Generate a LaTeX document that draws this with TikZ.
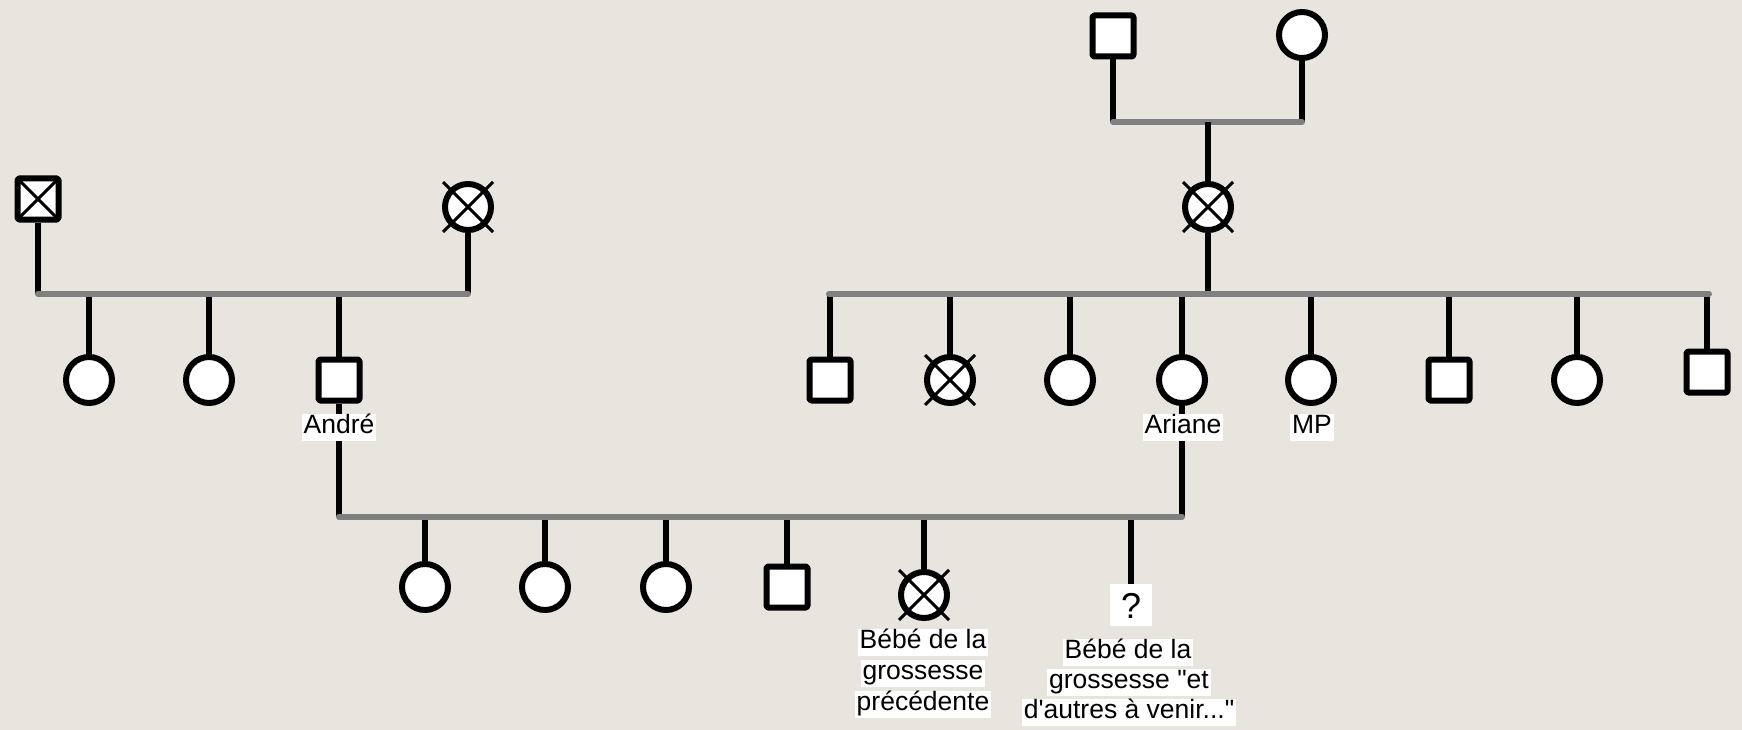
\documentclass[tikz,border=0pt]{standalone}
\usepackage{fontspec}
\setmainfont{Liberation Sans}
\newfontfamily\lblfont{Liberation Sans}
\definecolor{bgc}{RGB}{232,228,222}
\definecolor{linegray}{RGB}{128,128,128}
\pgfdeclarelayer{edges}
\pgfsetlayers{edges,main}
\tikzset{
  sym/.style={draw=black, line width=6pt, fill=white, inner sep=0pt, line join=round},
  male/.style={sym, rectangle, minimum size=41pt, rounded corners=1.5pt},
  female/.style={sym, circle, minimum size=46pt},
  desc/.style={draw=black, line width=5.5pt},
  union/.style={draw=linegray, line width=6pt, line cap=round},
  xmark/.style={draw=black, line width=3pt},
  lbl/.style={fill=white, inner xsep=2pt, inner ysep=1pt, font=\lblfont\fontsize{26.5}{30}\selectfont, text height=19pt, text depth=6pt},
  qbox/.style={fill=white, inner sep=0pt, minimum width=42pt, minimum height=42pt, font=\lblfont\fontsize{36}{40}\selectfont, text height=26pt, text depth=0pt},
}
\begin{document}
\begin{tikzpicture}[x=1pt,y=-1pt]
\useasboundingbox (0,0) rectangle (1742,730);
\begin{pgfonlayer}{edges}
\fill[bgc] (0,0) rectangle (1742,730);
\end{pgfonlayer}

% ---- left grandparents
\node[male] (gfL) at (38,199) {};
\node[female] (gmL) at (468,207) {};
\coordinate (mL1) at (38,294);
\coordinate (mL2) at (468,294);
\node[female] (cL1) at (89,380) {};
\node[female] (cL2) at (209,380) {};
\node[male] (andre) at (339,380) {};

% ---- right grandparents
\node[male] (gfR) at (1113,36) {};
\node[female] (gmR) at (1302,35) {};
\coordinate (mR1) at (1113,122);
\coordinate (mR2) at (1302,122);
\coordinate (dR) at (1208,122);
\node[female] (mom) at (1208,207) {};
\coordinate (sR) at (1208,294);
\coordinate (sR1) at (829,294);
\coordinate (sR2) at (1709,294);
\node[male] (r1) at (830,380) {};
\node[female] (r2) at (950,380) {};
\node[female] (r3) at (1070,380) {};
\node[female] (ariane) at (1182,380) {};
\node[female] (mp) at (1311,380) {};
\node[male] (r6) at (1449,380) {};
\node[female] (r7) at (1577,380) {};
\node[male] (r8) at (1707,372) {};

% ---- bottom family
\coordinate (bL) at (339,517);
\coordinate (bR) at (1182,517);
\node[female] (k1) at (425,587) {};
\node[female] (k2) at (545,587) {};
\node[female] (k3) at (666,587) {};
\node[male] (k4) at (787,587) {};
\node[female] (k5) at (924,595) {};
\node[qbox] (q) at (1131,605) {?};

% ---- labels
\node[lbl] (lAndre) at (339,427) {André};
\node[lbl] (lAriane) at (1183,427) {Ariane};
\node[lbl] (lMP) at (1312,427) {MP};
\node[lbl] (a1) at (923,642) {Bébé de la};
\node[lbl] (a2) at (923,673) {grossesse};
\node[lbl] (a3) at (923,704) {précédente};
\node[lbl] (b1) at (1128,652) {Bébé de la};
\node[lbl] (b2) at (1129,682) {grossesse "et};
\node[lbl] (b3) at (1129,712) {d'autres à venir..."};

% ---- cross marks
\draw[xmark] ([shift={(-20.5,-20.5)}]gfL.center) -- ([shift={(20.5,20.5)}]gfL.center);
\draw[xmark] ([shift={(-20.5,20.5)}]gfL.center) -- ([shift={(20.5,-20.5)}]gfL.center);
\foreach \n in {gmL,mom,r2,k5}{
  \draw[xmark] ([shift={(-25,-25)}]\n.center) -- ([shift={(25,25)}]\n.center);
  \draw[xmark] ([shift={(-25,25)}]\n.center) -- ([shift={(25,-25)}]\n.center);
}

% ---- connectors
\begin{pgfonlayer}{edges}
\draw[desc] (gfL.south) -- (mL1);
\draw[desc] (gmL.south) -- (mL2);
\foreach \c in {cL1,cL2,andre}{\draw[desc] (\c.north |- mL1) -- (\c.north);}
\draw[union] (mL1) -- (mL2);

\draw[desc] (gfR.south) -- (mR1);
\draw[desc] (gmR.south) -- (mR2);
\draw[union] (mR1) -- (mR2);
\draw[desc] (dR) -- (mom.north);
\draw[desc] (mom.south) -- (sR);
\foreach \c in {r1,r2,r3,ariane,mp,r6,r7,r8}{\draw[desc] (\c.north |- sR1) -- (\c.north);}
\draw[union] (sR1) -- (sR2);

\draw[desc] (andre.south) -- (bL);
\draw[desc] (ariane.south) -- (bR);
\foreach \c in {k1,k2,k3,k4,k5,q}{\draw[desc] (\c.north |- bL) -- (\c.north);}
\draw[union] (bL) -- (bR);
\end{pgfonlayer}
\end{tikzpicture}
\end{document}
